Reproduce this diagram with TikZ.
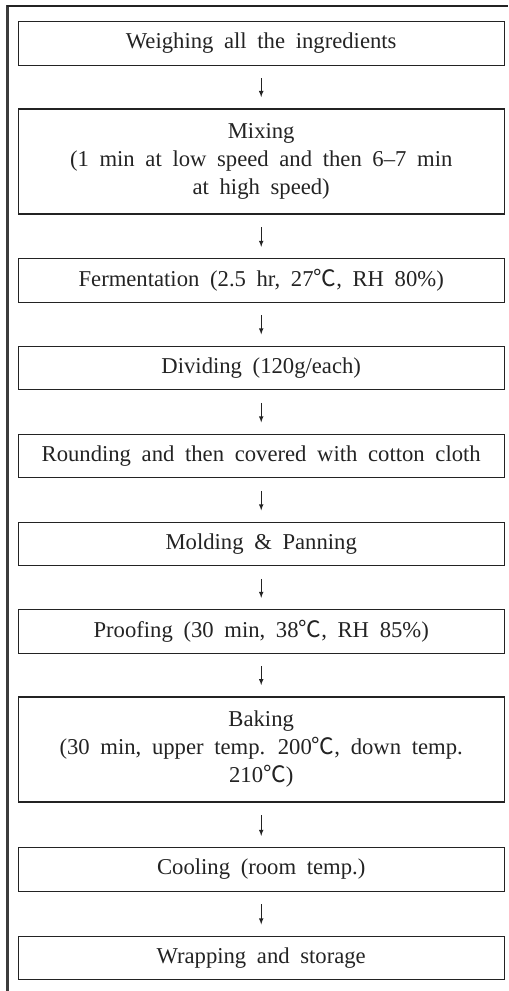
\documentclass[tikz,border=0pt]{standalone}
\usepackage{fontspec}
\setmainfont{Liberation Serif}
\newfontfamily\cjk{Noto Sans CJK KR}
\usepackage{tikz}
\usetikzlibrary{arrows}
\tikzset{>=latex}
\definecolor{mygray1}{RGB}{35, 35, 35}
\definecolor{mygray2}{RGB}{60, 60, 60}
\newcommand{\degC}{{\cjk ℃}}
\newcommand{\boxfont}{\fontsize{17}{21}\selectfont\spaceskip=0.47em\relax}
\tikzset{stepbox/.style = {draw = mygray1, line width = 0.8pt, minimum width = 364.3pt, minimum height = 32.6pt, inner sep = 0pt, align = center, text = mygray1, font = \boxfont}}
\tikzset{tallbox/.style = {stepbox, minimum height = 78.75pt}}
\tikzset{flowarrow/.style = {->, line width = 0.6pt, mygray1, shorten <= 9.5pt, shorten >= 8.5pt}}

\begin{document}
\begin{tikzpicture}[x = 0.75pt, y = -0.75pt]
\useasboundingbox (0, 0) rectangle (508, 991);
% frame
\draw[line width = 1.6pt, mygray2] (7.5, 991) -- (7.5, 5.5);
\draw[line width = 1pt, mygray1] (6.7, 6) -- (508, 6);
% steps
\node[stepbox] (weigh) at (261.2, 43.4) {Weighing all the ingredients};
\node[tallbox] (mix) at (261.2, 161.5) {Mixing\\(1 min at low speed and then 6–7 min\\at high speed)};
\node[stepbox] (ferment) at (261.2, 280.5) {Fermentation (2.5 hr, 27\degC, RH 80\%)};
\node[stepbox] (divide) at (261.2, 368) {Dividing (120g/each)};
\node[stepbox] (round) at (261.2, 456) {Rounding and then covered with cotton cloth};
\node[stepbox] (mold) at (261.2, 544) {Molding \& Panning};
\node[stepbox] (proof) at (261.2, 631.5) {Proofing (30 min, 38\degC, RH 85\%)};
\node[tallbox] (bake) at (261.2, 749.5) {Baking\\(30 min, upper temp. 200\degC, down temp.\\210\degC)};
\node[stepbox] (cool) at (261.2, 869.5) {Cooling (room temp.)};
\node[stepbox] (wrap) at (261.2, 958) {Wrapping and storage};
% arrows
\foreach \a/\b in {weigh/mix, mix/ferment, ferment/divide, divide/round, round/mold, mold/proof, proof/bake, bake/cool, cool/wrap}
  \draw[flowarrow] (\a) -- (\b);
\end{tikzpicture}
\end{document}
